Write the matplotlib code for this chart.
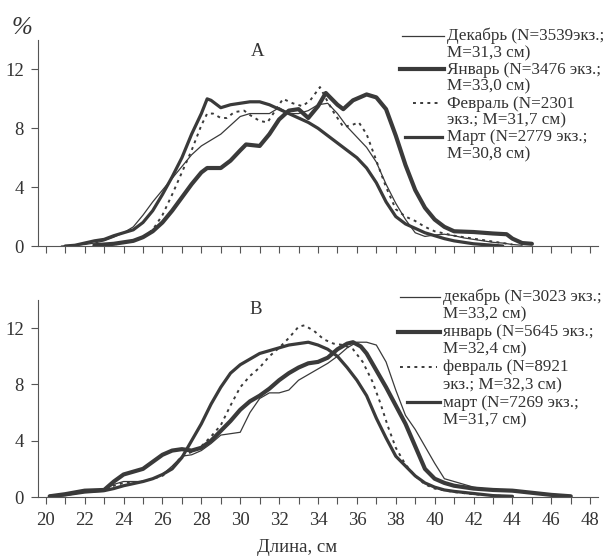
import matplotlib.pyplot as plt
from matplotlib.lines import Line2D

plt.rcParams['font.family'] = ['Liberation Serif', 'DejaVu Serif']

# ---- panel A ----
decA_x = [20.8, 21.5, 22, 22.5, 23, 23.5, 24, 24.5, 25, 25.5, 26, 26.5, 27, 27.5, 28, 28.5, 29, 29.5, 30, 30.5,
          31, 31.5, 32, 32.5, 33, 33.5, 34, 34.5, 35, 35.5, 36, 36.5, 37, 37.5, 38, 38.5, 39, 39.5, 40, 40.5,
          41, 41.5, 42, 42.5, 43, 43.5, 44, 44.5]
decA_y = [0, 0.05, 0.1, 0.2, 0.35, 0.6, 0.9, 1.3, 2.1, 3.0, 3.8, 4.6, 5.4, 6.2, 6.8, 7.2, 7.6, 8.2, 8.8, 9.0,
          9.0, 9.0, 9.4, 9.0, 9.0, 9.2, 9.6, 9.7, 9.0, 8.1, 7.4, 6.7, 5.7, 4.2, 2.9, 1.8, 0.9, 0.65, 0.75, 0.8,
          0.7, 0.55, 0.45, 0.35, 0.25, 0.2, 0.1, 0.05]

janA_x = [22.5, 23, 23.5, 24, 24.5, 25, 25.5, 26, 26.5, 27, 27.5, 28, 28.3, 29, 29.5, 30, 30.3, 31, 31.5, 32,
          32.5, 33, 33.5, 34, 34.4, 35, 35.3, 35.8, 36.5, 37, 37.5, 38, 38.5, 39, 39.5, 40, 40.5, 41, 42, 43,
          43.7, 44, 44.5, 45]
janA_y = [0.05, 0.1, 0.15, 0.25, 0.35, 0.6, 1.0, 1.6, 2.4, 3.3, 4.2, 5.0, 5.3, 5.3, 5.8, 6.5, 6.9, 6.8, 7.6, 8.6,
          9.2, 9.3, 8.7, 9.5, 10.4, 9.6, 9.3, 9.9, 10.3, 10.1, 9.3, 7.5, 5.5, 3.8, 2.6, 1.8, 1.3, 1.0, 0.95, 0.85,
          0.8, 0.5, 0.2, 0.15]

febA_x = [22.5, 23, 23.5, 24, 24.5, 25, 25.5, 26, 26.5, 27, 27.5, 28, 28.3, 28.6, 29, 29.3, 29.7, 30.2, 30.5, 31,
          31.4, 31.7, 32.2, 32.7, 33.2, 33.6, 34.1, 34.5, 34.8, 35.3, 35.7, 36.1, 36.5, 37, 37.5, 38, 38.5, 39,
          39.5, 40, 40.5, 41, 42, 43, 44]
febA_y = [0, 0.05, 0.1, 0.2, 0.35, 0.6, 1.1, 2.1, 3.5, 5.0, 6.5, 8.2, 9.0, 9.0, 8.7, 8.7, 9.1, 9.2, 8.9, 8.5,
          8.4, 9.0, 10.0, 9.7, 9.5, 9.9, 10.8, 9.8, 9.1, 8.1, 8.2, 8.4, 7.6, 5.8, 4.0, 2.5, 2.0, 1.7,
          1.3, 1.0, 0.85, 0.7, 0.5, 0.3, 0.1]

marA_x = [21, 21.5, 22, 22.5, 23, 23.5, 24, 24.5, 25, 25.5, 26, 26.5, 27, 27.5, 28, 28.3, 28.5, 29, 29.5, 30,
          30.5, 31, 31.5, 32, 32.5, 33, 33.5, 34, 34.5, 35, 35.5, 36, 36.5, 37, 37.5, 38, 38.5, 39, 39.5, 40,
          40.5, 41, 41.5, 42, 42.5, 43, 43.5]
marA_y = [0, 0.05, 0.2, 0.35, 0.45, 0.7, 0.9, 1.1, 1.6, 2.4, 3.5, 4.7, 6.0, 7.6, 9.0, 10.0, 9.9, 9.4, 9.6, 9.7,
          9.8, 9.8, 9.6, 9.3, 9.0, 8.7, 8.4, 8.0, 7.5, 7.0, 6.5, 6.0, 5.3, 4.3, 3.0, 2.0, 1.5, 1.2, 0.9, 0.7,
          0.5, 0.35, 0.25, 0.15, 0.1, 0.05, 0]

# ---- panel B ----
decB_x = [20.2, 21, 22, 23, 23.5, 24, 24.5, 25, 25.5, 26, 26.5, 27, 27.5, 28, 28.5, 29, 29.5, 30, 30.5, 31,
          31.5, 32, 32.5, 33, 33.5, 34, 34.5, 35, 35.5, 36, 36.5, 37, 37.5, 38, 38.5, 39, 39.5, 40, 40.5, 41,
          41.5, 42, 43, 44, 45, 46, 47]
decB_y = [0.05, 0.15, 0.4, 0.5, 0.9, 1.1, 1.1, 1.1, 1.3, 1.6, 2.2, 2.9, 3.0, 3.3, 3.8, 4.4, 4.5, 4.6, 6.0, 7.0,
          7.4, 7.4, 7.6, 8.3, 8.7, 9.1, 9.5, 10.0, 10.6, 11.0, 11.0, 10.8, 9.6, 7.6, 5.8, 4.8, 3.6, 2.4, 1.3, 1.1,
          0.9, 0.7, 0.5, 0.4, 0.3, 0.2, 0.1]

janB_x = [20.2, 21, 22, 23, 23.5, 24, 24.5, 25, 25.5, 26, 26.5, 27, 27.5, 28, 28.5, 29, 29.5, 30, 30.5, 31,
          31.5, 32, 32.5, 33, 33.5, 34, 34.5, 35, 35.5, 35.8, 36.2, 36.5, 37, 37.5, 38, 38.5, 39, 39.5, 40,
          40.5, 41, 42, 43, 44, 45, 46, 47]
janB_y = [0.05, 0.2, 0.45, 0.5, 1.1, 1.6, 1.8, 2.0, 2.5, 3.0, 3.3, 3.4, 3.3, 3.5, 4.0, 4.7, 5.4, 6.2, 6.8, 7.2,
          7.7, 8.3, 8.8, 9.2, 9.5, 9.6, 9.9, 10.5, 10.9, 11.0, 10.7, 10.2, 9.0, 7.8, 6.5, 5.2, 3.6, 2.0, 1.3,
          1.0, 0.8, 0.6, 0.5, 0.45, 0.3, 0.15, 0.05]

febB_x = [20.2, 21, 22, 23, 23.5, 24, 25, 26, 26.5, 27, 27.5, 28, 28.5, 29, 29.5, 30, 30.5, 31, 31.5, 32,
          32.5, 33, 33.3, 33.8, 34.3, 34.8, 35.3, 35.8, 36.3, 36.8, 37.2, 37.6, 38, 38.5, 39, 39.5, 40, 41,
          42, 43, 44]
febB_y = [0.05, 0.15, 0.35, 0.45, 0.8, 1.0, 1.1, 1.5, 2.1, 2.9, 3.2, 3.6, 4.3, 5.1, 6.5, 7.8, 8.6, 9.2, 10.0, 10.6,
          11.3, 12.1, 12.2, 11.8, 11.2, 10.9, 10.8, 10.5, 9.6, 8.2, 6.7, 5.0, 3.5, 2.3, 1.5, 0.9, 0.6, 0.35,
          0.2, 0.1, 0.05]

marB_x = [20.2, 21, 22, 23, 23.5, 24, 25, 25.5, 26, 26.5, 27, 27.5, 28, 28.5, 29, 29.5, 30, 30.5, 31, 31.5,
          32, 32.5, 33, 33.5, 34, 34.5, 35, 35.5, 36, 36.5, 37, 37.5, 38, 38.5, 39, 39.5, 40, 40.5, 41, 42,
          43, 44]
marB_y = [0.05, 0.15, 0.35, 0.45, 0.6, 0.8, 1.1, 1.3, 1.6, 2.0, 2.8, 4.0, 5.2, 6.6, 7.8, 8.8, 9.4, 9.8, 10.2, 10.4,
          10.6, 10.8, 10.9, 11.0, 10.8, 10.5, 10.0, 9.2, 8.3, 7.2, 5.6, 4.2, 2.9, 2.2, 1.5, 1.0, 0.7, 0.5, 0.4, 0.25,
          0.1, 0.05]

labelsA = ['Декабрь (N=3539экз.;', 'M=31,3 см)', 'Январь (N=3476 экз.;', 'M=33,0 см)',
           'Февраль (N=2301', 'экз.; M=31,7 см)', 'Март (N=2779 экз.;', 'M=30,8 см)']
labelsB = ['декабрь (N=3023 экз.;', 'M=33,2 см)', 'январь (N=5645 экз.;', 'M=32,4 см)',
           'февраль (N=8921', 'экз.; M=32,3 см)', 'март (N=7269 экз.;', 'M=31,7 см)']

xticks = list(range(20, 49))
xlabels = list(range(20, 49, 2))
yticks = [0, 4, 8, 12]

ink = '#3a3a3a'
txt = '#333333'
styles = [dict(lw=0.9, ls='-'), dict(lw=3.0, ls='-'), dict(lw=1.4, ls=(0, (1.5, 2.2))), dict(lw=2.3, ls='-')]

W, H = 609, 558
fig = plt.figure(figsize=(W / 100, H / 100), dpi=100)
axA = fig.add_axes([38 / W, 1 - 246 / H, 560 / W, 206 / H])
axB = fig.add_axes([38 / W, 1 - 497 / H, 560 / W, 197 / H])

dataA = [(decA_x, decA_y), (janA_x, janA_y), (febA_x, febA_y), (marA_x, marA_y)]
dataB = [(decB_x, decB_y), (janB_x, janB_y), (febB_x, febB_y), (marB_x, marB_y)]

for ax, data in [(axA, dataA), (axB, dataB)]:
    for (x, y), st in zip(data, styles):
        ax.plot(x, y, color=ink, solid_capstyle='round', **st)
    ax.set_xlim(19.6, 48.4)
    ax.set_ylim(0, 14)
    ax.spines['top'].set_visible(False)
    ax.spines['right'].set_visible(False)
    ax.spines['left'].set_color('#555555')
    ax.spines['bottom'].set_color('#555555')
    ax.set_xticks(xticks)
    ax.set_yticks(yticks)
    ax.tick_params(axis='x', direction='out', length=5, color='#555555', labelsize=13.5, labelcolor=txt)
    ax.tick_params(axis='y', direction='out', length=5, color='#555555', labelsize=13.5, labelcolor=txt, pad=5)

axA.set_xticklabels([])
axB.set_xticklabels([str(v) if v in xlabels else '' for v in xticks])
axB.tick_params(axis='x', pad=6)

# legends drawn by hand, handle on the first line of each label
def legend(base, step, tx, texts, handles):
    for i, t in enumerate(texts):
        yb = base + i * step
        fig.text(tx / W, 1 - yb / H, t, fontsize=12.3, color=txt, va='baseline', ha='left')
        if i % 2 == 0:
            x0, x1 = handles[i // 2]
            yy = 1 - (yb - 4.5) / H
            fig.add_artist(Line2D([x0 / W, x1 / W], [yy, yy], color=ink, **styles[i // 2]))

legend(40, 16.9, 447, labelsA, [(402, 444), (400, 444), (413, 441), (405, 442)])
legend(301, 17.6, 443, labelsB, [(400, 440), (398, 440), (400, 437), (407, 440)])

fig.text(258 / W, 1 - 52 / H, 'A', fontsize=13.5, color=txt, ha='center', va='center')
fig.text(256 / W, 1 - 309 / H, 'B', fontsize=13.5, color=txt, ha='center', va='center')
fig.text(22 / W, 1 - 28 / H, '%', fontsize=18, style='italic', color=txt, ha='center', va='center')
fig.text(297 / W, 1 - 547 / H, 'Длина, см', fontsize=13.5, color=txt, ha='center', va='center')

fig.savefig('out.png', dpi=100)
